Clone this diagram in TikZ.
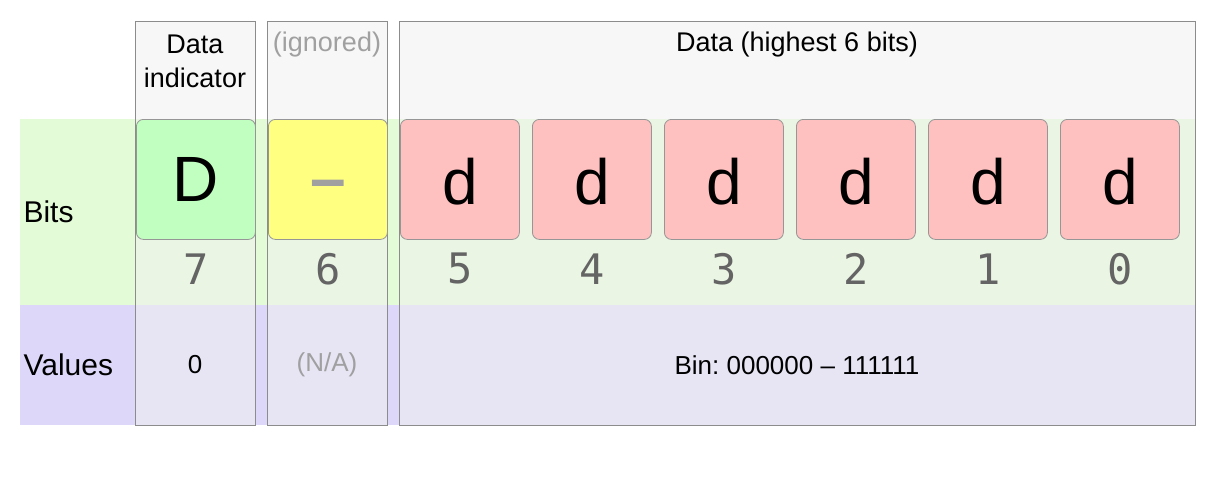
\documentclass[tikz,border=0pt]{standalone}
\usepackage{fontspec}
\setmainfont{Liberation Sans}
\newfontfamily\monof{DejaVu Sans Mono}
\frenchspacing
\definecolor{bandgreen}{RGB}{227,252,215}
\definecolor{bandpurple}{RGB}{221,216,250}
\definecolor{colfill}{RGB}{240,240,240}
\definecolor{linegray}{RGB}{140,140,140}
\definecolor{boxline}{RGB}{150,150,150}
\definecolor{dgreen}{RGB}{192,255,192}
\definecolor{dyellow}{RGB}{255,255,128}
\definecolor{dred}{RGB}{255,192,192}
\definecolor{numgray}{RGB}{100,100,100}
\definecolor{lightgray}{RGB}{160,160,160}
\tikzset{
  colbox/.style={draw=linegray, line width=0.9pt, fill=colfill, fill opacity=0.55, draw opacity=1},
  bitbox/.style={draw=boxline, line width=0.8pt, rounded corners=7pt, minimum width=119pt, minimum height=120pt, inner sep=0pt, anchor=north west},
  bigletter/.style={font=\fontsize{64}{70}\selectfont},
  bitnum/.style={font=\monof\fontsize{42}{46}\selectfont, text=numgray},
  header/.style={font=\fontsize{27}{33}\selectfont, align=center},
  rowlabel/.style={font=\fontsize{30}{34}\selectfont, anchor=west},
  valtext/.style={font=\fontsize{26}{30}\selectfont}
}
\begin{document}
\begin{tikzpicture}[x=1pt,y=-1pt]
\useasboundingbox (0,0) rectangle (1215,483);
% bands
\fill[bandgreen] (20,119) rectangle (1195,305);
\fill[bandpurple] (20,305) rectangle (1195,425);
% columns
\draw[colbox] (135,21) rectangle (255,425);
\draw[colbox] (267,21) rectangle (387,425);
\draw[colbox] (399,21) rectangle (1195,425);
% headers
\node[header] (h1) at (195,61) {Data\\[1pt]indicator};
\node[header, text=lightgray] (h2) at (327,45) {(ignored)};
\node[header] (h3) at (797,45) {Data (highest 6 bits)};
% row labels
\node[rowlabel] (lbits) at (20,212) {Bits};
\node[rowlabel] (lvals) at (20,365) {Values};
% bit boxes
\node[bitbox, fill=dgreen] (b7) at (136,119) {};
\node[bigletter] at (b7.center) {D};
\node[bitbox, fill=dyellow] (b6) at (268,119) {};
\node[bigletter, font=\fontsize{64}{70}\selectfont\bfseries, text=lightgray] at ([yshift=-11pt]b6.center) {–};
\foreach \i/\x in {5/400,4/532,3/664,2/796,1/928,0/1060}{
  \node[bitbox, fill=dred] (b\i) at (\x,119) {};
  \node[bigletter] at ([yshift=-2pt]b\i.center) {d};
}
% bit numbers
\foreach \i in {7,6,5,4,3,2,1,0}{
  \node[bitnum] (n\i) at ([yshift=-29pt]b\i.south) {\i};
}
% values
\node[valtext] (v1) at (195,365) {0};
\node[valtext, text=lightgray] (v2) at (327,365) {(N/A)};
\node[valtext] (v3) at (797,365) {Bin: 000000 – 111111};
\end{tikzpicture}
\end{document}
